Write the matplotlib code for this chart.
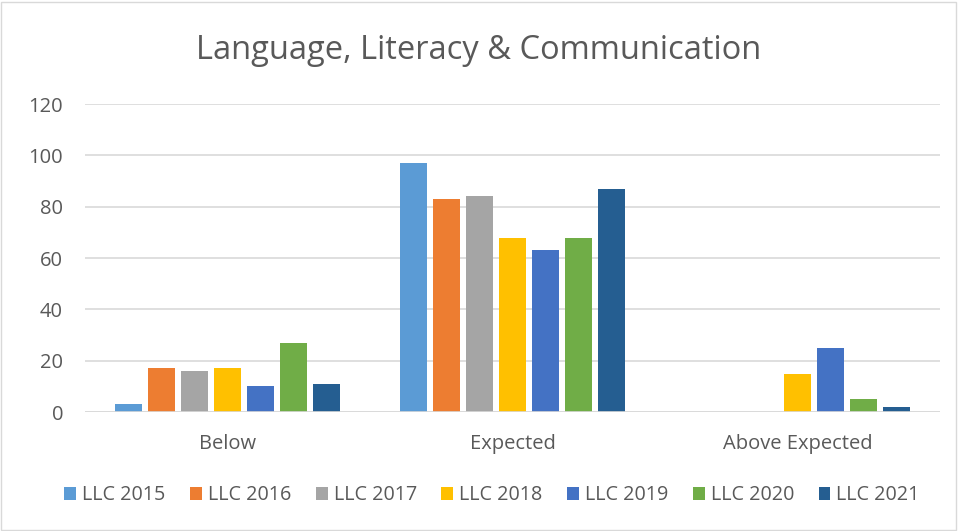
import numpy as np
import matplotlib.pyplot as plt
from matplotlib.patches import Rectangle

plt.rcParams['font.family'] = ['Open Sans', 'DejaVu Sans']

categories = ["Below", "Expected", "Above Expected"]
series_names = ["LLC 2015", "LLC 2016", "LLC 2017", "LLC 2018", "LLC 2019", "LLC 2020", "LLC 2021"]
llc_2015 = [3, 97, 0]
llc_2016 = [17, 83, 0]
llc_2017 = [16, 84, 0]
llc_2018 = [17, 68, 15]
llc_2019 = [10, 63, 25]
llc_2020 = [27, 68, 5]
llc_2021 = [11, 87, 2]
y_ticks = [0, 20, 40, 60, 80, 100, 120]

series = [llc_2015, llc_2016, llc_2017, llc_2018, llc_2019, llc_2020, llc_2021]
colors = ["#5b9bd5", "#ed7d31", "#a5a5a5", "#ffc000", "#4472c4", "#70ad47", "#255e91"]
txt = "#595959"

fig = plt.figure(figsize=(9.58, 5.31), dpi=100)
ax = fig.add_axes([0.089, 0.224, 0.892, 0.58])

x = np.arange(len(categories))
step = 0.1158
width = 0.095
for i, (vals, c, name) in enumerate(zip(series, colors, series_names)):
    ax.bar(x + (i - 3) * step, vals, width, color=c, label=name, zorder=3)

ax.set_xlim(-0.5, 2.5)
ax.set_ylim(0, 120)
ax.set_yticks(y_ticks)
ax.set_xticks(x)
ax.set_xticklabels(categories)
ax.grid(axis='y', color='#d9d9d9', linewidth=1.2, zorder=0)
for s in ax.spines.values():
    s.set_visible(False)
ax.axhline(0, color='#d9d9d9', linewidth=1.2, zorder=4)
ax.tick_params(axis='both', length=0, labelsize=14.5, colors=txt)
ax.tick_params(axis='y', pad=16)
ax.tick_params(axis='x', pad=16)

fig.text(0.5, 0.905, "Language, Literacy & Communication", ha='center', va='center',
         fontsize=23.5, color=txt)

ax.legend(loc='center', bbox_to_anchor=(0.476, -0.27), ncol=7, frameon=False,
          fontsize=14.2, labelcolor=txt, handlelength=0.6, handleheight=0.6,
          handletextpad=0.3, columnspacing=1.25)

fig.add_artist(Rectangle((0.001, 0.002), 0.997, 0.995, transform=fig.transFigure,
                         fill=False, edgecolor='#d9d9d9', linewidth=1))

fig.savefig("out.png", dpi=100)
